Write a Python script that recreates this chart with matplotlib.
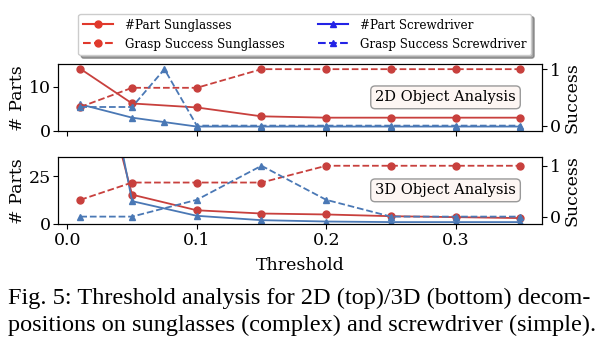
import numpy as np
import matplotlib
matplotlib.use("Agg")
import matplotlib.pyplot as plt
from matplotlib.lines import Line2D

plt.rcParams["font.family"] = "DejaVu Serif"

# data
thr_sun_2d = [0.01, 0.05, 0.1, 0.15, 0.2, 0.25, 0.3, 0.35]
parts_sun_2d = [14, 6.2, 5.3, 3.3, 3, 3, 3, 3]
succ_sun_2d = [0.33, 0.67, 0.67, 1, 1, 1, 1, 1]
thr_scr_2d = [0.01, 0.05, 0.075, 0.1, 0.15, 0.2, 0.25, 0.3, 0.35]
parts_scr_2d = [6, 3, 2, 1, 1, 1, 1, 1, 1]
succ_scr_2d = [0.33, 0.33, 1, 0, 0, 0, 0, 0, 0]

thr_3d = [0.01, 0.05, 0.1, 0.15, 0.2, 0.25, 0.3, 0.35]
parts_sun_3d = [120, 15.4, 7.2, 5.5, 5, 4.1, 3.6, 3.1]
succ_sun_3d = [0.33, 0.67, 0.67, 0.67, 1, 1, 1, 1]
parts_scr_3d = [150, 12, 4.3, 2, 1.3, 1, 1, 1]
succ_scr_3d = [0, 0, 0.33, 1, 0.33, 0, 0, 0]

red = "#c8403d"
blue = "#4a78b5"

fig = plt.figure(figsize=(6.05, 3.47), dpi=100)
ax1 = fig.add_axes([0.0964, 0.6225, 0.8, 0.192])
ax2 = fig.add_axes([0.0964, 0.3545, 0.8, 0.192], sharex=ax1)

def panel(ax, ts, ps, ss, tc, pc, sc, ylim, ylim2, label):
    ax.plot(ts, ps, "-o", color=red, lw=1.3, ms=5)
    ax.plot(tc, pc, "-^", color=blue, lw=1.3, ms=5)
    ax.set_ylim(*ylim)
    ax.set_ylabel("# Parts", fontsize=12.5, labelpad=2)
    ax.tick_params(labelsize=12.5, pad=2)
    r = ax.twinx()
    r.plot(ts, ss, "--o", color=red, lw=1.3, ms=5)
    r.plot(tc, sc, "--^", color=blue, lw=1.3, ms=5)
    r.set_ylim(*ylim2)
    r.set_yticks([0, 1])
    r.set_ylabel("Success", fontsize=12.5, labelpad=2)
    r.tick_params(labelsize=12.5, pad=2)
    ax.text(0.8, 0.505, label, transform=ax.transAxes, ha="center", va="center",
            fontsize=10.5,
            bbox=dict(boxstyle="round,pad=0.3", fc="#fdf6f3", ec="#999999"))
    return r

panel(ax1, thr_sun_2d, parts_sun_2d, succ_sun_2d, thr_scr_2d, parts_scr_2d, succ_scr_2d,
      (0, 15), (-0.095, 1.085), "2D Object Analysis")
panel(ax2, thr_3d, parts_sun_3d, succ_sun_3d, thr_3d, parts_scr_3d, succ_scr_3d,
      (0, 35), (-0.145, 1.165), "3D Object Analysis")
ax1.set_yticks([0, 10])
ax2.set_yticks([0, 25])
ax2.set_xticks([0.0, 0.1, 0.2, 0.3])
ax1.tick_params(labelbottom=False)
ax2.set_xlabel("Threshold", fontsize=12.5, labelpad=6)

handles = [
    Line2D([], [], color="#e0392c", marker="o", ls="-", ms=5),
    Line2D([], [], color="#e0392c", marker="o", ls="--", ms=5),
    Line2D([], [], color="#2323e6", marker="^", ls="-", ms=5),
    Line2D([], [], color="#2323e6", marker="^", ls="--", ms=5),
]
labels = ["#Part Sunglasses", "Grasp Success Sunglasses",
          "#Part Screwdriver", "Grasp Success Screwdriver"]
fig.legend(handles, labels, loc="upper center", bbox_to_anchor=(0.504, 0.96),
           ncol=2, fontsize=8.6, shadow=True, borderaxespad=0,
           handlelength=2.5, handletextpad=1.0, columnspacing=2.8,
           labelspacing=0.5, borderpad=0.4)

# caption below the chart
fig.text(0.013, 0.141, "Fig. 5: Threshold analysis for 2D (top)/3D (bottom) decom-",
         family="Liberation Serif", fontsize=17.5, va="center")
fig.text(0.013, 0.063, "positions on sunglasses (complex) and screwdriver (simple).",
         family="Liberation Serif", fontsize=17.5, va="center")

fig.savefig("out.png", dpi=100)
